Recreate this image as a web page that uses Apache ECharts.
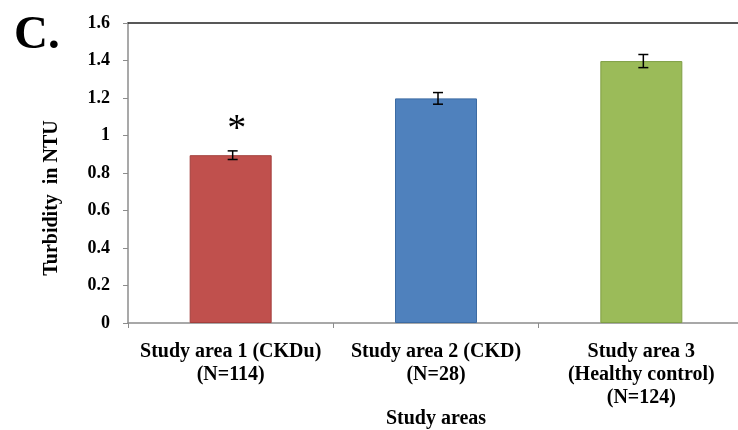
<!DOCTYPE html>
<html>
<head>
<meta charset="utf-8">
<script src="https://cdn.jsdelivr.net/npm/echarts@6/dist/echarts.min.js"></script>
<style>
html,body{margin:0;padding:0;background:#fff;}
#c{width:738px;height:430px;}
</style>
</head>
<body>
<div id="c"></div>
<script>
var categories = ['Study area 1 (CKDu)\n(N=114)', 'Study area 2 (CKD)\n(N=28)', 'Study area 3\n(Healthy control)\n(N=124)'];
var values = [0.895, 1.198, 1.397];
var errors = [0.023, 0.031, 0.035];
var marks = ['*', '', ''];
var barColors = ['#C0504D', '#4F81BD', '#9BBB59'];
var barBorders = ['#A33F3C', '#3C6BA3', '#7F9F45'];
var yTicks = {min: 0, max: 1.6, interval: 0.2};

var chart = echarts.init(document.getElementById('c'));
var serif = "'Liberation Serif', 'Times New Roman', serif";
chart.setOption({
  animation: false,
  backgroundColor: '#fff',
  title: {
    text: 'C.', left: 9, top: 7,
    textStyle: {fontFamily: serif, fontWeight: 'bold', fontSize: 47, color: '#000'}
  },
  grid: {left: 128, top: 23, width: 616, bottom: 107, containLabel: false, outerBoundsMode: 'none'},
  xAxis: [{
    type: 'category',
    data: categories,
    position: 'bottom',
    axisLine: {lineStyle: {color: '#8c8c8c', width: 1.5}},
    axisTick: {show: true, length: 5, alignWithLabel: false, lineStyle: {color: '#8c8c8c'}},
    axisLabel: {fontFamily: serif, fontWeight: 'bold', fontSize: 20, color: '#000', lineHeight: 23, margin: 17, interval: 0},
    name: 'Study areas',
    nameLocation: 'middle',
    nameGap: 86,
    nameMoveOverlap: false,
    nameTextStyle: {fontFamily: serif, fontWeight: 'bold', fontSize: 20, color: '#000'}
  }, {
    type: 'category',
    data: categories,
    position: 'top',
    axisLine: {show: true, lineStyle: {color: '#222', width: 1.5}},
    axisTick: {show: false},
    axisLabel: {show: false}
  }],
  yAxis: {
    type: 'value',
    min: yTicks.min, max: yTicks.max, interval: yTicks.interval,
    axisLine: {show: true, lineStyle: {color: '#8c8c8c', width: 1.5}},
    axisTick: {show: true, length: 5, lineStyle: {color: '#8c8c8c'}},
    splitLine: {show: false},
    axisLabel: {fontFamily: serif, fontWeight: 'bold', fontSize: 18, color: '#000', margin: 18},
    name: 'Turbidity  in NTU',
    nameLocation: 'middle',
    nameRotate: 90,
    nameGap: 66,
    nameMoveOverlap: false,
    nameTextStyle: {fontFamily: serif, fontWeight: 'bold', fontSize: 20, color: '#000', padding: [0, 50, 0, 0]}
  },
  series: [{
    type: 'bar',
    barWidth: 82,
    data: values.map(function (v, i) {
      return {value: v, itemStyle: {color: barColors[i], borderColor: barBorders[i], borderWidth: 1}};
    })
  }, {
    type: 'custom',
    data: values.map(function (v, i) { return [i, v, errors[i]]; }),
    z: 10,
    renderItem: function (params, api) {
      var i = api.value(0), v = api.value(1), e = api.value(2);
      var top = api.coord([i, v + e]);
      var bot = api.coord([i, v - e]);
      var x = top[0] + 2, hw = 5;
      var style = {stroke: '#000', lineWidth: 1.5};
      var children = [
        {type: 'line', shape: {x1: x, y1: top[1], x2: x, y2: bot[1]}, style: style},
        {type: 'line', shape: {x1: x - hw, y1: top[1], x2: x + hw, y2: top[1]}, style: style},
        {type: 'line', shape: {x1: x - hw, y1: bot[1], x2: x + hw, y2: bot[1]}, style: style}
      ];
      var m = marks[params.dataIndex];
      if (m) {
        children.push({type: 'text', x: x + 4, y: top[1] - 21,
          style: {text: m, fontFamily: serif, fontSize: 38, fill: '#000', align: 'center', verticalAlign: 'middle'}});
      }
      return {type: 'group', children: children};
    }
  }]
});
</script>
</body>
</html>
